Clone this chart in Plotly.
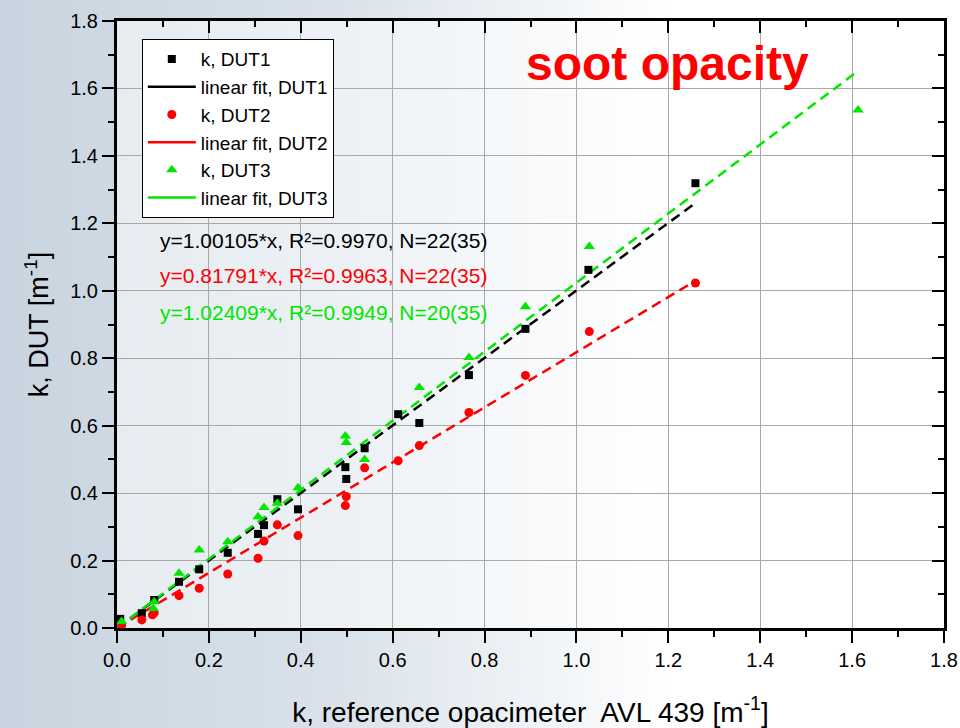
import base64
import plotly.graph_objects as go

# Measured extinction coefficient k of each device under test versus the reference opacimeter
dut1_x = [0.007, 0.054, 0.081, 0.135, 0.179, 0.241, 0.307, 0.320, 0.349, 0.394,
          0.497, 0.499, 0.539, 0.612, 0.658, 0.766, 0.889, 1.026, 1.259]
dut1_y = [0.027, 0.044, 0.083, 0.137, 0.174, 0.223, 0.279, 0.305, 0.382, 0.352,
          0.477, 0.442, 0.533, 0.634, 0.608, 0.750, 0.887, 1.062, 1.319]

dut2_x = [0.010, 0.054, 0.077, 0.081, 0.135, 0.179, 0.241, 0.307, 0.320, 0.349,
          0.394, 0.497, 0.499, 0.539, 0.612, 0.658, 0.766, 0.889, 1.028, 1.259]
dut2_y = [0.008, 0.024, 0.039, 0.045, 0.096, 0.118, 0.160, 0.207, 0.258, 0.306,
          0.274, 0.363, 0.390, 0.475, 0.496, 0.541, 0.639, 0.749, 0.879, 1.023]

dut3_x = [0.010, 0.079, 0.081, 0.135, 0.179, 0.241, 0.307, 0.320, 0.349, 0.394,
          0.497, 0.499, 0.539, 0.658, 0.766, 0.889, 1.028, 1.613]
dut3_y = [0.019, 0.058, 0.078, 0.162, 0.231, 0.256, 0.330, 0.357, 0.370, 0.416,
          0.569, 0.550, 0.500, 0.713, 0.802, 0.953, 1.131, 1.536]

# Fit slopes (through origin) and stats
slopes = [1.00105, 0.81791, 1.02409]
fit_labels = [
    "y=1.00105*x, R²=0.9970, N=22(35)",
    "y=0.81791*x, R²=0.9963, N=22(35)",
    "y=1.02409*x, R²=0.9949, N=20(35)",
]
series_names = ["DUT1", "DUT2", "DUT3"]

x_ticks = [0.0, 0.2, 0.4, 0.6, 0.8, 1.0, 1.2, 1.4, 1.6, 1.8]
y_ticks = [0.0, 0.2, 0.4, 0.6, 0.8, 1.0, 1.2, 1.4, 1.6, 1.8]

BLACK = "#000000"
RED = "#ff0000"
GREEN = "#00e600"
colors = [BLACK, RED, GREEN]
symbols = ["square", "circle", "triangle-up"]
msizes = [8, 9, 10]
FONT = "Liberation Sans, Arial, sans-serif"

xs = [dut1_x, dut2_x, dut3_x]
ys = [dut1_y, dut2_y, dut3_y]

fig = go.Figure()

# dashed fit lines (drawn first, under the markers)
for i in range(3):
    xmax = max(xs[i])
    fig.add_trace(go.Scatter(
        x=[0.0, xmax], y=[0.0, slopes[i] * xmax], mode="lines",
        line=dict(color=colors[i], width=2.5, dash="10px,6px"),
        showlegend=False, hoverinfo="skip"))

for i in range(3):
    fig.add_trace(go.Scatter(
        x=xs[i], y=ys[i], mode="markers",
        marker=dict(symbol=symbols[i], size=msizes[i], color=colors[i]),
        name=f"k, {series_names[i]}", legendgroup=f"k{i}", legendrank=10 + 2 * i))
    # solid legend key for the fit
    fig.add_trace(go.Scatter(
        x=[None], y=[None], mode="lines",
        line=dict(color=colors[i], width=2.5),
        name=f"linear fit, {series_names[i]}", legendgroup=f"f{i}",
        legendrank=11 + 2 * i))

# companion axes for the top and right frame with inward ticks
fig.add_trace(go.Scatter(x=[None], y=[None], xaxis="x2", yaxis="y2",
                         showlegend=False, hoverinfo="skip"))

# soft blue-grey backdrop fading to white
svg = (
    "<svg xmlns='http://www.w3.org/2000/svg' width='960' height='728' "
    "preserveAspectRatio='none'>"
    "<defs><linearGradient id='g' x1='0' y1='0' x2='1' y2='0'>"
    "<stop offset='0' stop-color='#c8d4df'/>"
    "<stop offset='0.35' stop-color='#d9e2ea'/>"
    "<stop offset='0.58' stop-color='#f2f5f8'/>"
    "<stop offset='0.70' stop-color='#ffffff'/>"
    "</linearGradient></defs>"
    "<rect width='960' height='728' fill='url(#g)'/></svg>"
)
bg_src = "data:image/svg+xml;base64," + base64.b64encode(svg.encode()).decode()

L, R, T, B = 117, 16, 21, 100
W, H = 960, 728
pw, ph = W - L - R, H - T - B

axis_common = dict(
    range=[0, 1.8], showline=True, linecolor="black", linewidth=3,
    tickwidth=2, tickcolor="black", zeroline=False, automargin=False,
)

fig.update_layout(
    width=W, height=H,
    margin=dict(l=L, r=R, t=T, b=B),
    paper_bgcolor="white",
    plot_bgcolor="rgba(0,0,0,0)",
    font=dict(family=FONT, color="black"),
    images=[dict(source=bg_src, xref="paper", yref="paper",
                 x=-L / pw, y=1 + T / ph, sizex=W / pw, sizey=H / ph,
                 xanchor="left", yanchor="top", sizing="stretch",
                 layer="below")],
    shapes=[dict(type="rect", xref="paper", yref="paper", x0=0, x1=1, y0=0, y1=1,
                 fillcolor="rgba(255,255,255,0.5)", line=dict(width=0),
                 layer="below")],
    xaxis=dict(
        **axis_common,
        tickvals=x_ticks, ticktext=[f"{v:.1f}" for v in x_ticks],
        ticks="outside", ticklen=12,
        minor=dict(dtick=0.1, tick0=0, ticks="outside", ticklen=6,
                   tickwidth=2, tickcolor="black", showgrid=False),
        showgrid=True, gridcolor="#a9a9a9", gridwidth=1.3,
        tickfont=dict(size=20),
        title=dict(text="k, reference opacimeter  AVL 439 [m<sup>-1</sup>]",
                   font=dict(size=28), standoff=34),
    ),
    yaxis=dict(
        **axis_common,
        tickvals=y_ticks, ticktext=[f"{v:.1f}" for v in y_ticks],
        ticks="outside", ticklen=12,
        minor=dict(dtick=0.1, tick0=0, ticks="outside", ticklen=6,
                   tickwidth=2, tickcolor="black", showgrid=False),
        showgrid=True, gridcolor="#a9a9a9", gridwidth=1.3,
        tickfont=dict(size=20),
        title=dict(text="k, DUT [m<sup>-1</sup>]", font=dict(size=27), standoff=14),
    ),
    xaxis2=dict(
        **axis_common, overlaying="x", side="top", anchor="y2",
        tickvals=x_ticks, showticklabels=False, ticks="inside", ticklen=12,
        minor=dict(dtick=0.1, tick0=0, ticks="inside", ticklen=6,
                   tickwidth=2, tickcolor="black", showgrid=False),
        showgrid=False,
    ),
    yaxis2=dict(
        **axis_common, overlaying="y", side="right", anchor="x2",
        tickvals=y_ticks, showticklabels=False, ticks="inside", ticklen=12,
        minor=dict(dtick=0.1, tick0=0, ticks="inside", ticklen=6,
                   tickwidth=2, tickcolor="black", showgrid=False),
        showgrid=False,
    ),
    legend=dict(
        x=0.03, y=0.97, xanchor="left", yanchor="top",
        bgcolor="white", bordercolor="black", borderwidth=1,
        font=dict(size=19, family=FONT), tracegroupgap=0,
        itemwidth=48,
    ),
    showlegend=True,
)

# fit equations
label_y = [0.638, 0.580, 0.519]
for i in range(3):
    fig.add_annotation(
        x=0.05, y=label_y[i], xref="paper", yref="paper",
        xanchor="left", yanchor="middle", showarrow=False,
        text=fit_labels[i], font=dict(size=21, color=colors[i], family=FONT))

fig.add_annotation(
    x=0.666, y=0.93, xref="paper", yref="paper",
    xanchor="center", yanchor="middle", showarrow=False,
    text="<b>soot opacity</b>", font=dict(size=48, color=RED, family=FONT))

fig.write_html("out.html")
